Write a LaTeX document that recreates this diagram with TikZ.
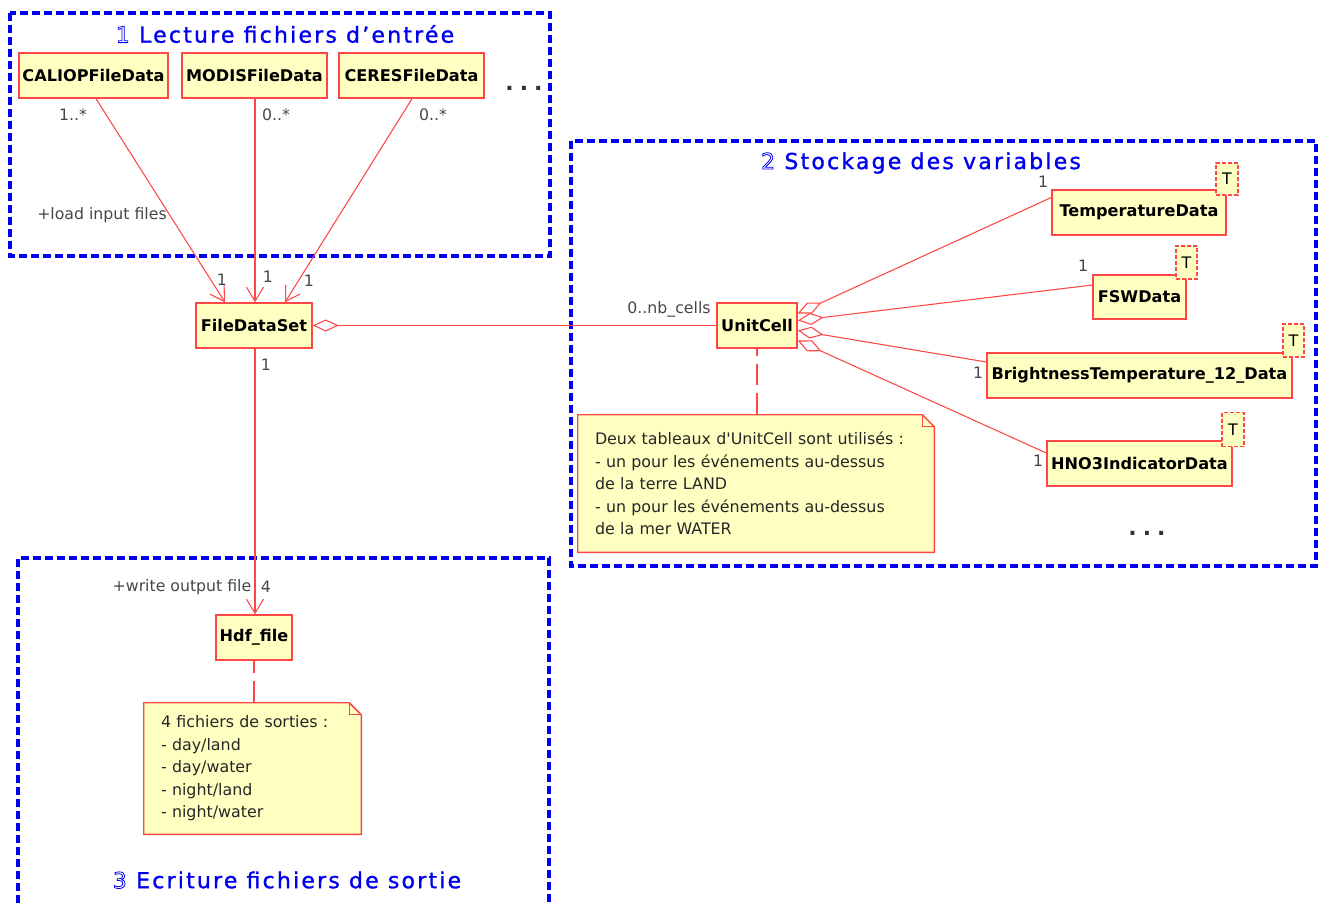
\documentclass[tikz,border=0pt]{standalone}
\usepackage{fontspec}
\setmainfont{DejaVu Sans}
\newfontfamily\uifont{DejaVu Sans}
\newfontfamily\titlefont[LetterSpace=10,FakeBold=1.2]{DejaVu Sans}
\usetikzlibrary{arrows.meta,calc}
\definecolor{umlred}{RGB}{255,70,70}
\definecolor{umlfill}{RGB}{255,255,194}
\definecolor{lblgray}{RGB}{70,70,70}
\definecolor{pkgblue}{RGB}{0,0,240}
\newcommand\outl[1]{{\uifont\special{pdf:literal direct 0.6 w 1 Tr}#1\special{pdf:literal direct 0 Tr}}}
\begin{document}
\begin{tikzpicture}[x=0.75pt,y=-0.75pt,
  cls/.style n args={2}{draw=umlred,fill=umlfill,line width=1.1pt,inner sep=0pt,minimum width=#1*0.75pt,minimum height=#2*0.75pt,font=\uifont\fontsize{12.1}{13}\selectfont\bfseries,text=black},
  tmpl/.style n args={2}{draw=umlred,fill=umlfill,line width=0.9pt,dash pattern=on 3pt off 1.5pt,inner sep=0pt,minimum width=#1*0.75pt,minimum height=#2*0.75pt,font=\uifont\fontsize{11.9}{13}\selectfont,text=black},
  lbl/.style={font=\uifont\fontsize{11.8}{13}\selectfont,text=lblgray,inner sep=0pt},
  notebox/.style={draw=none,inner xsep=12.75pt,inner ysep=0pt,align=left,font=\uifont\fontsize{11.9}{16.9}\selectfont,text=black!85},
  notepath/.style={draw=umlred,fill=umlfill,line width=1.1pt},
  assoc/.style={draw=umlred,line width=0.8pt},
  nav/.style={-{Straight Barb[length=10.5pt,width=12.75pt]}},
  agg/.style={{Diamond[fill=white,length=19.5pt,width=9pt]}-},
  pkg/.style={draw=pkgblue,line width=3pt,dash pattern=on 6pt off 3pt},
  ptitle/.style={font=\titlefont\fontsize{16.5}{20}\selectfont,text=pkgblue,inner sep=0pt},
  dots/.style={font=\uifont\fontsize{16.5}{20}\selectfont\bfseries,text=black!80,inner sep=0pt},
  notelink/.style={draw=umlred,line width=0.8pt,dash pattern=on 15.75pt off 6pt}
]
\useasboundingbox (0,0) rectangle (1318,906);
% package frames
\draw[pkg] (10,13) rectangle (550,256);
\draw[pkg] (571,141) rectangle (1316,566);
\draw[pkg] (18,915) -- (18,558) -- (549,558) -- (549,915);
% titles
\node[ptitle] (t1) at (285,34) {\outl{1}\hspace{7pt}Lecture fichiers d’entrée};
\node[ptitle] (t2) at (921,163) {\outl{2}\hspace{7pt}Stockage des variables};
\node[ptitle] (t3) at (287,880) {\outl{3}\hspace{7pt}Ecriture fichiers de sortie};
% classes
\node[cls={149}{45}] (cal) at (93.5,75.5) {CALIOPFileData};
\node[cls={145}{45}] (mod) at (254.5,75.5) {MODISFileData};
\node[cls={145}{45}] (cer) at (411.5,75.5) {CERESFileData};
\node[dots] (dots1) at (524,88) {.\hspace{4.5pt}.\hspace{4.5pt}.};
\node[cls={116}{45}] (fds) at (254,325.5) {FileDataSet};
\node[cls={80}{45}] (uc) at (757,325.5) {UnitCell};
\node[cls={174}{45}] (temp) at (1139,212.5) {TemperatureData};
\node[cls={93}{44}] (fsw) at (1139.5,297) {FSWData};
\node[cls={305}{45}] (bt) at (1139.5,375.5) {BrightnessTemperature\_12\_Data};
\node[cls={185}{45}] (hno) at (1139.5,463.5) {HNO3IndicatorData};
\node[dots] (dots2) at (1147,533) {.\hspace{4.5pt}.\hspace{4.5pt}.};
\node[cls={76}{45}] (hdf) at (254,637.5) {Hdf\_file};
% template boxes
\node[tmpl={22}{32}] (tT) at (1227,179) {T};
\node[tmpl={21}{33}] (tF) at (1186.5,262.5) {T};
\node[tmpl={21}{33}] (tB) at (1293.5,340.5) {T};
\node[tmpl={22}{34}] (tH) at (1233,429.5) {T};
% notes
\node[notebox,text width=241.5pt,minimum height=102.75pt] (n1) at (756,483.5)
  {\phantom{x}};
\node[notebox,text width=137.25pt,minimum height=98.25pt] (n2) at (252.5,768.5)
  {\phantom{x}};
\foreach \n in {n1,n2}{
  \path[notepath] (\n.north west) -- ($(\n.north east)+(-12,0)$) -- ($(\n.north east)+(0,12)$) -- (\n.south east) -- (\n.south west) -- cycle;
  \draw[umlred,line width=0.8pt] ($(\n.north east)+(-12,0)$) -- ($(\n.north east)+(-12,12)$) -- ($(\n.north east)+(0,12)$);
}
\node[notebox,text width=241.5pt,minimum height=102.75pt] (n1t) at (n1) {Deux tableaux d'UnitCell sont utilisés :\\- un pour les événements au-dessus\\de la terre LAND\\- un pour les événements au-dessus\\de la mer WATER};
\node[notebox,text width=137.25pt,minimum height=98.25pt] (n2t) at (n2) {4 fichiers de sorties :\\- day/land\\- day/water\\- night/land\\- night/water};
% navigable associations
\draw[assoc,nav] ($(cal.south)+(2.5,0)$) -- ($(fds.north)+(-29,0)$);
\draw[assoc,nav] ($(mod.south)+(0.5,0)$) -- ($(fds.north)+(1,0)$);
\draw[assoc,nav] ($(cer.south)+(0.5,0)$) -- ($(fds.north)+(31,0)$);
\draw[assoc,nav] ($(fds.south)+(1,0)$) -- ($(hdf.north)+(1,0)$);
% aggregations
\draw[assoc,agg] (fds.east) -- (uc.west);
\draw[assoc,agg] ($(uc.east)+(0,-12)$) -- ($(temp.west)+(0,-15)$);
\draw[assoc,agg] ($(uc.east)+(0,-5)$) -- ($(fsw.west)+(0,-12)$);
\draw[assoc,agg] ($(uc.east)+(0,5)$) -- ($(bt.west)+(0,-13.5)$);
\draw[assoc,agg] ($(uc.east)+(0,15)$) -- ($(hno.west)+(0,-10.5)$);
% note links
\draw[notelink,dash phase=10.5pt] (uc.south) -- (uc.south |- n1.north);
\draw[notelink,dash phase=6.75pt] (hdf.south) -- (hdf.south |- n2.north);
% labels
\node[lbl] (l1) at (73,115) {1..*};
\node[lbl] (l2) at (276,115) {0..*};
\node[lbl] (l3) at (433,115) {0..*};
\node[lbl] (l4) at (102,215) {+load input files};
\node[lbl] (l5) at (222,280) {1};
\node[lbl] (l6) at (268,277) {1};
\node[lbl] (l7) at (309,281) {1};
\node[lbl] (l8) at (669,309) {0..nb\_cells};
\node[lbl] (l9) at (266,365) {1};
\node[lbl] (l10) at (266,587) {4};
\node[lbl] (l11) at (182,587) {+write output file};
\node[lbl] (l12) at (1043,182) {1};
\node[lbl] (l13) at (1083,266) {1};
\node[lbl] (l14) at (978,373) {1};
\node[lbl] (l15) at (1038,461) {1};
\end{tikzpicture}
\end{document}
